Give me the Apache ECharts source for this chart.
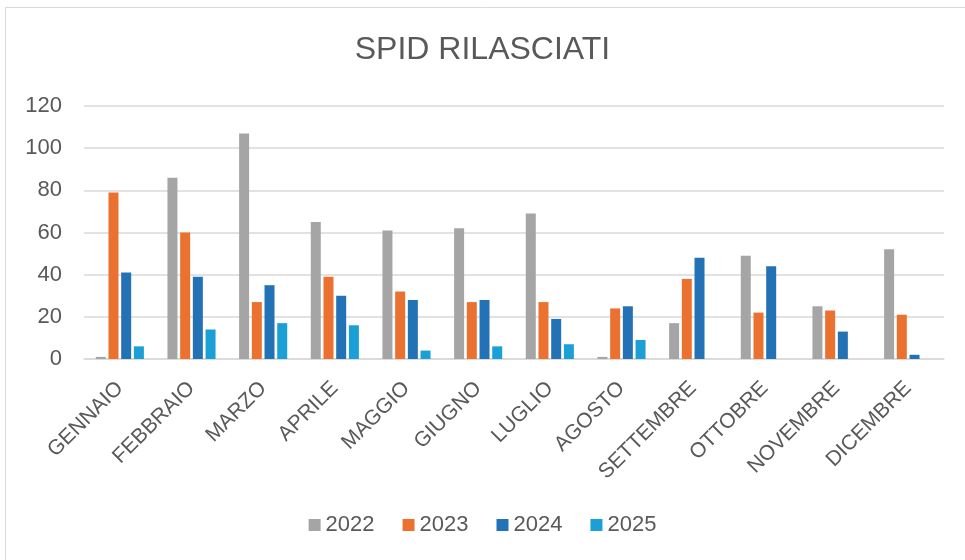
<!DOCTYPE html>
<html>
<head>
<meta charset="utf-8">
<script src="https://cdn.jsdelivr.net/npm/echarts@6/dist/echarts.min.js"></script>
<style>
html,body{margin:0;padding:0;background:#fff;}
#chart{width:965px;height:560px;}
</style>
</head>
<body>
<div id="chart"></div>
<script>
var categories = ['GENNAIO','FEBBRAIO','MARZO','APRILE','MAGGIO','GIUGNO','LUGLIO','AGOSTO','SETTEMBRE','OTTOBRE','NOVEMBRE','DICEMBRE'];
var seriesNames = ['2022','2023','2024','2025'];
var values2022 = [1, 86, 107, 65, 61, 62, 69, 1, 17, 49, 25, 52];
var values2023 = [79, 60, 27, 39, 32, 27, 27, 24, 38, 22, 23, 21];
var values2024 = [41, 39, 35, 30, 28, 28, 19, 25, 48, 44, 13, 2];
var values2025 = [6, 14, 17, 16, 4, 6, 7, 9, null, null, null, null];
var yTicks = [0, 20, 40, 60, 80, 100, 120];

var colors = ['#A5A5A5', '#EB7130', '#2372B5', '#1B9FD7'];
var allValues = [values2022, values2023, values2024, values2025];
var textColor = '#595959';
var font = 'Liberation Sans, Arial, sans-serif';

var chart = echarts.init(document.getElementById('chart'), null, {renderer: 'canvas'});
chart.setOption({
  backgroundColor: '#fff',
  animation: false,
  graphic: [{
    type: 'rect',
    shape: {x: 5.5, y: 7.5, width: 1000, height: 600},
    style: {fill: 'none', stroke: '#D9D9D9', lineWidth: 1},
    silent: true
  }],
  title: {
    text: 'SPID RILASCIATI',
    left: 'center',
    top: 29,
    textStyle: {color: textColor, fontSize: 32, fontWeight: 'normal', fontFamily: font}
  },
  legend: {
    data: seriesNames,
    bottom: 19,
    left: 'center',
    itemWidth: 12,
    itemHeight: 12,
    itemGap: 28,
    icon: 'rect',
    textStyle: {color: textColor, fontSize: 22, fontFamily: font}
  },
  grid: {left: 84, right: 21, top: 106, bottom: 201, containLabel: false},
  xAxis: {
    type: 'category',
    data: categories,
    axisLine: {lineStyle: {color: '#D9D9D9', width: 1.5}},
    axisTick: {show: false},
    axisLabel: {rotate: 45, margin: 26, color: textColor, fontSize: 21, fontFamily: font, interval: 0}
  },
  yAxis: {
    type: 'value',
    min: yTicks[0],
    max: yTicks[yTicks.length - 1],
    interval: yTicks[1] - yTicks[0],
    axisLine: {show: false},
    axisTick: {show: false},
    splitLine: {lineStyle: {color: '#D9D9D9', width: 1.5}},
    axisLabel: {margin: 22, color: textColor, fontSize: 22, fontFamily: font}
  },
  series: seriesNames.map(function (name, i) {
    return {
      name: name,
      type: 'bar',
      data: allValues[i],
      barWidth: 10,
      barGap: '27%',
      itemStyle: {color: colors[i]}
    };
  })
});
</script>
</body>
</html>
